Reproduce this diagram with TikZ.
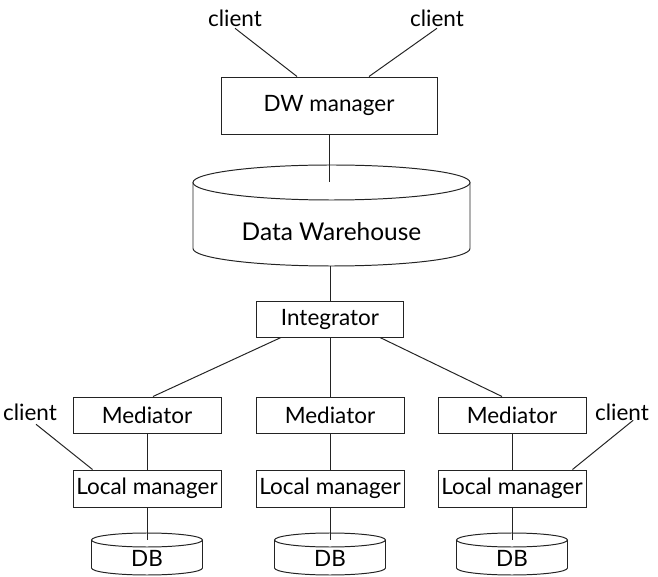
\documentclass[tikz,border=0pt]{standalone}
\usepackage{fontspec}
\setmainfont{Lato}
\usepackage{tikz}
\usetikzlibrary{calc}
\definecolor{inkgrey}{RGB}{35,35,35}

\begin{document}
\begin{tikzpicture}[line width=0.7pt,
    box/.style={draw=inkgrey,line width=0.7pt,minimum width=3.7cm,
      minimum height=0.9cm,inner sep=0pt,font=\fontsize{16}{18}\selectfont},
    lbl/.style={font=\fontsize{16}{18}\selectfont,inner sep=1pt}]
        \useasboundingbox (0,0) rectangle (16.45,14.4);
        % top: clients and DW manager
        \node[box,minimum width=5.4cm,minimum height=1.425cm]
          (dwm) at (8.225,11.7625) {DW manager};
        \node[lbl] (clTL) at (5.875,13.95) {client};
        \node[lbl] (clTR) at (10.925,13.95) {client};
        \draw[inkgrey] (clTL.south) -- ($(dwm.north)+(-0.8,0)$);
        \draw[inkgrey] (clTR.south) -- ($(dwm.north)+(1.0,0)$);
        % data warehouse drum
        \draw[inkgrey] (4.825,9.8375) -- (4.825,8.1875)
          arc[start angle=180,end angle=360,x radius=3.4625,y radius=0.4375]
          -- (11.75,9.8375);
        \draw[inkgrey] (8.2875,9.8375) ellipse[x radius=3.4625,y radius=0.4375];
        \coordinate (dwtop) at (8.2875,9.8375);
        \coordinate (dwbot) at (8.25,7.75);
        \node[lbl,font=\fontsize{17.4}{20}\selectfont] (dwh) at (8.2875,8.6)
          {Data Warehouse};
        \draw[inkgrey] (dwm.south) -- (dwm.south |- dwtop);
        % integrator
        \node[box,minimum width=3.675cm] (integ) at (8.25,6.425) {Integrator};
        \draw[inkgrey] (dwbot) -- (integ.north);
        % mediators
        \node[box] (med1) at (3.675,4.025) {Mediator};
        \node[box] (med2) at (8.25,4.025) {Mediator};
        \node[box] (med3) at (12.8,4.025) {Mediator};
        \draw[inkgrey] ($(integ.south)+(-1.225,0)$) -- ($(med1.north)+(0.15,0)$);
        \draw[inkgrey] (integ.south) -- (med2.north);
        \draw[inkgrey] ($(integ.south)+(1.25,0)$) -- ($(med3.north)+(-0.25,0)$);
        % local managers
        \node[box,minimum height=0.925cm] (lm1) at (3.675,2.1875) {Local manager};
        \node[box,minimum height=0.925cm] (lm2) at (8.25,2.1875) {Local manager};
        \node[box,minimum height=0.925cm] (lm3) at (12.8,2.1875) {Local manager};
        \draw[inkgrey] (med1.south) -- (lm1.north);
        \draw[inkgrey] (med2.south) -- (lm2.north);
        \draw[inkgrey] (med3.south) -- (lm3.north);
        \node[lbl] (clL) at (0.75,4.1) {client};
        \node[lbl] (clR) at (15.55,4.1) {client};
        \draw[inkgrey] ($(clL.south)+(0.15,-0.05)$) -- ($(lm1.north west)+(0.5,0)$);
        \draw[inkgrey] ($(clR.south)+(0.28,0.05)$) -- ($(lm3.north east)+(-0.35,0)$);
        % local DB drums
        \draw[inkgrey] (2.2875,0.9) -- (2.2875,0.2)
          arc[start angle=180,end angle=360,x radius=1.3875,y radius=0.175]
          -- (5.0625,0.9);
        \draw[inkgrey] (3.675,0.9) ellipse[x radius=1.3875,y radius=0.175];
        \coordinate (db1top) at (3.675,0.9);
        \node[lbl] (db1) at (3.675,0.45) {DB};
        \draw[inkgrey] (6.8625,0.9) -- (6.8625,0.2)
          arc[start angle=180,end angle=360,x radius=1.3875,y radius=0.175]
          -- (9.6375,0.9);
        \draw[inkgrey] (8.25,0.9) ellipse[x radius=1.3875,y radius=0.175];
        \coordinate (db2top) at (8.25,0.9);
        \node[lbl] (db2) at (8.25,0.45) {DB};
        \draw[inkgrey] (11.4125,0.9) -- (11.4125,0.2)
          arc[start angle=180,end angle=360,x radius=1.3875,y radius=0.175]
          -- (14.1875,0.9);
        \draw[inkgrey] (12.8,0.9) ellipse[x radius=1.3875,y radius=0.175];
        \coordinate (db3top) at (12.8,0.9);
        \node[lbl] (db3) at (12.8,0.45) {DB};
        \draw[inkgrey] (lm1.south) -- (db1top);
        \draw[inkgrey] (lm2.south) -- (db2top);
        \draw[inkgrey] (lm3.south) -- (db3top);
      \end{tikzpicture}
\end{document}
